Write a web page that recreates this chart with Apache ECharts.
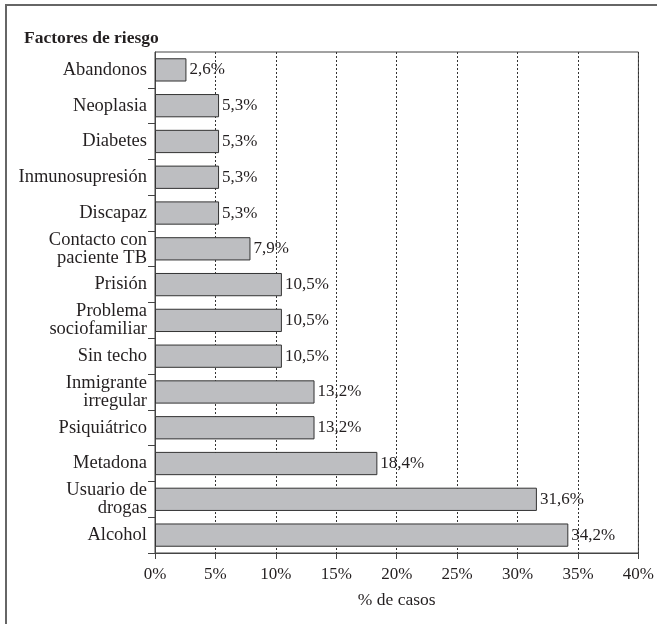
<!DOCTYPE html>
<html>
<head>
<meta charset="utf-8">
<script src="https://cdn.jsdelivr.net/npm/echarts@6/dist/echarts.min.js"></script>
<style>
html,body{margin:0;padding:0;background:#fff;}
#chart{width:657px;height:624px;}
</style>
</head>
<body>
<div id="chart"></div>
<script>
var categories = [
  'Abandonos', 'Neoplasia', 'Diabetes', 'Inmunosupresión', 'Discapaz',
  'Contacto con\npaciente TB', 'Prisión', 'Problema\nsociofamiliar', 'Sin techo',
  'Inmigrante\nirregular', 'Psiquiátrico', 'Metadona', 'Usuario de\ndrogas', 'Alcohol'
];
var values = [2.6, 5.3, 5.3, 5.3, 5.3, 7.9, 10.5, 10.5, 10.5, 13.2, 13.2, 18.4, 31.6, 34.2];
var xTicks = [0, 5, 10, 15, 20, 25, 30, 35, 40];

var FONT = 'Liberation Serif';
var TXT = '#231f20';
var chart = echarts.init(document.getElementById('chart'), null, {renderer: 'canvas'});
chart.setOption({
  animation: false,
  backgroundColor: '#fff',
  title: {
    text: 'Factores de riesgo',
    left: 19, top: 24,
    textStyle: {fontFamily: FONT, fontSize: 17.5, fontWeight: 'bold', color: TXT}
  },
  graphic: [
    {type: 'polyline', shape: {points: [[6, 624], [6, 5], [657, 5]]},
     style: {stroke: '#666', lineWidth: 2, fill: null}, silent: true}
  ],
  grid: {
    left: 155, right: 18, top: 52, bottom: 71,
    show: true, borderColor: '#444', borderWidth: 1, backgroundColor: 'transparent'
  },
  xAxis: {
    type: 'value', min: xTicks[0], max: xTicks[xTicks.length - 1], interval: 5,
    name: '% de casos', nameLocation: 'middle', nameGap: 38,
    nameTextStyle: {fontFamily: FONT, fontSize: 17.5, color: TXT},
    axisLine: {show: true, lineStyle: {color: '#444', width: 1}},
    axisTick: {show: true, length: 6, lineStyle: {color: '#444'}},
    axisLabel: {fontFamily: FONT, fontSize: 17, color: TXT, margin: 13,
      formatter: function (v) { return v + '%'; }},
    splitLine: {show: true, lineStyle: {color: '#333', type: [2, 2], width: 1}}
  },
  yAxis: {
    type: 'category', inverse: true, data: categories,
    axisLine: {show: true, lineStyle: {color: '#444', width: 1}},
    axisTick: {show: true, length: 7, lineStyle: {color: '#444'},
      interval: function (i) { return i !== 0; }},
    axisLabel: {fontFamily: FONT, fontSize: 18.5, color: TXT, margin: 8, lineHeight: 18, align: 'right'},
    splitLine: {show: false}
  },
  series: [{
    type: 'bar',
    data: values,
    barWidth: '65%',
    itemStyle: {color: '#bdbec1', borderColor: '#333', borderWidth: 1},
    label: {
      show: true, position: 'right', distance: 3,
      fontFamily: FONT, fontSize: 17, color: TXT,
      formatter: function (p) { return p.value.toFixed(1).replace('.', ',') + '%'; }
    },
    z: 3
  }]
});
</script>
</body>
</html>
